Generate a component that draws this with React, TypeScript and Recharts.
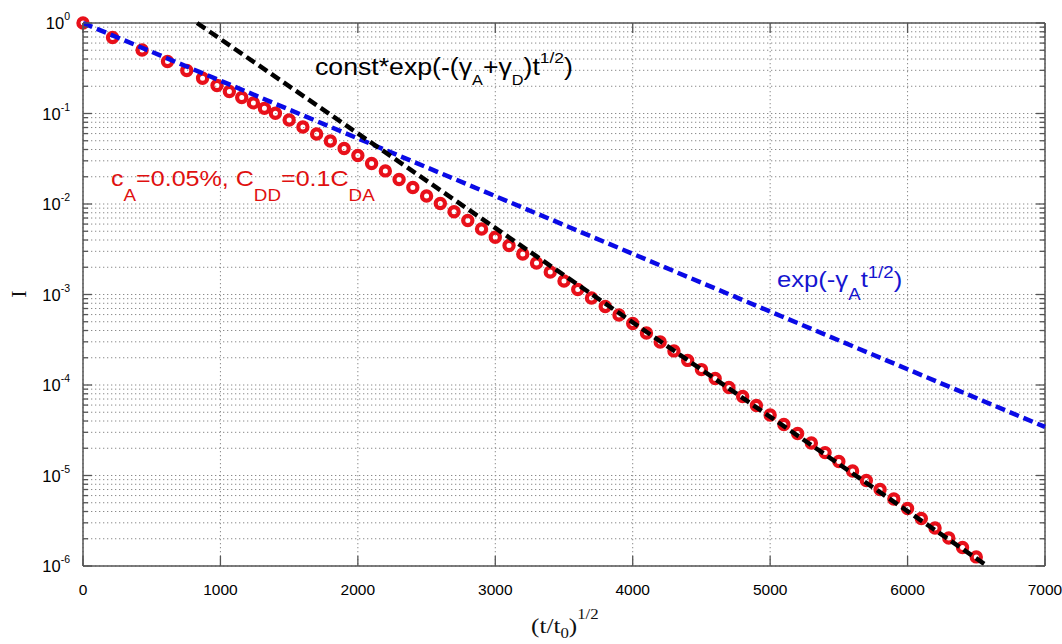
import React from "react";
import {
  ComposedChart,
  Line,
  Scatter,
  XAxis,
  YAxis,
  CartesianGrid,
  ReferenceLine,
} from "recharts";

// simulated decay, red circles
const redX = [
  0, 215, 430, 615, 755, 870, 975, 1065, 1155, 1240, 1320, 1400, 1500, 1600,
  1700, 1800, 1900, 2000, 2100, 2200, 2300, 2400, 2500, 2600, 2700, 2800, 2900,
  3000, 3100, 3200, 3300, 3400, 3500, 3600, 3700, 3800, 3900, 4000, 4100, 4200,
  4300, 4400, 4500, 4600, 4700, 4800, 4900, 5000, 5100, 5200, 5300, 5400, 5500,
  5600, 5700, 5800, 5900, 6000, 6100, 6200, 6300, 6400, 6500,
];
const redI = [
  1.0, 0.692, 0.503, 0.376, 0.299, 0.245, 0.204, 0.175, 0.15, 0.131, 0.114,
  0.1005, 0.0848, 0.0709, 0.0594, 0.0497, 0.041, 0.0344, 0.028, 0.0232,
  0.01865, 0.01522, 0.01226, 0.01013, 0.00822, 0.00657, 0.00529, 0.00429,
  0.00348, 0.0028, 0.00223, 0.00177, 0.00141, 0.001135, 0.000915, 0.000737,
  0.000594, 0.000478, 0.000376, 0.000299, 0.000238, 0.000187, 0.000148,
  0.000118, 9.38e-5, 7.46e-5, 5.94e-5, 4.66e-5, 3.66e-5, 2.91e-5, 2.29e-5,
  1.79e-5, 1.43e-5, 1.12e-5, 8.81e-6, 7.0e-6, 5.5e-6, 4.32e-6, 3.35e-6,
  2.63e-6, 2.04e-6, 1.6e-6, 1.26e-6,
];

// exp(-gA t^1/2)
const blueX = [0, 7000];
const blueI = [1, 3.44e-5];

// const*exp(-(gA+gD) t^1/2)
const blackX = [830, 6580];
const blackI = [1, 1e-6];

const xTicks = [0, 1000, 2000, 3000, 4000, 5000, 6000, 7000];
const yMajorTicks = [1, 1e-1, 1e-2, 1e-3, 1e-4, 1e-5, 1e-6];
const yMinorFactors = [2, 3, 4, 5, 6, 7, 8, 9];

const redData = redX.map((x, i) => ({ x, y: redI[i] }));
const blueData = blueX.map((x, i) => ({ x, y: blueI[i] }));
const blackData = blackX.map((x, i) => ({ x, y: blackI[i] }));
const yTicks = [
  ...yMajorTicks,
  ...yMajorTicks.slice(1).flatMap((b) => yMinorFactors.map((m) => m * b)),
];

const PLOT_W = 962;
const PLOT_TOP = 23;
const FRAME = "#555";
const SANS = "'Liberation Sans', Arial, Helvetica, sans-serif";
const SERIF = "'Liberation Serif', 'Times New Roman', serif";

function YTick(props: any) {
  const { x, y, payload } = props;
  const lg = Math.log10(payload.value);
  const major = Math.abs(lg - Math.round(lg)) < 1e-6;
  const len = major ? 9 : 5;
  return (
    <g>
      <line x1={x} y1={y} x2={x + len} y2={y} stroke={FRAME} strokeWidth={1.3} />
      <line x1={x + PLOT_W - len} y1={y} x2={x + PLOT_W} y2={y} stroke={FRAME} strokeWidth={1.3} />
      {major && (
        <text x={x - 13} y={y + 6} textAnchor="end" fontSize={16.5} fontFamily={SANS} fill="#000">
          10
          <tspan dy={-9} fontSize={10.5}>
            {Math.round(lg)}
          </tspan>
        </text>
      )}
    </g>
  );
}

function XTick(props: any) {
  const { x, y, payload } = props;
  return (
    <g>
      <line x1={x} y1={y} x2={x} y2={y - 10} stroke={FRAME} strokeWidth={1.3} />
      <line x1={x} y1={PLOT_TOP} x2={x} y2={PLOT_TOP + 10} stroke={FRAME} strokeWidth={1.3} />
      <text x={x} y={y + 29} textAnchor="middle" fontSize={15.5} fontFamily={SANS} fill="#000">
        {payload.value}
      </text>
    </g>
  );
}

function RedRing(props: any) {
  return (
    <circle cx={props.cx} cy={props.cy} r={4.6} fill="none" stroke="#e8101a" strokeWidth={4.2} />
  );
}

export default function App() {
  return (
    <div style={{ position: "absolute", left: 0, top: 0, width: 1062, height: 644, background: "#fff" }}>
      <ComposedChart width={1062} height={644} margin={{ top: 23, right: 17, bottom: 0, left: 0 }}>
        <CartesianGrid stroke="#8a8a8a" strokeDasharray="1.3 2.7" strokeWidth={1} />
        <XAxis
          type="number"
          dataKey="x"
          domain={[0, 7000]}
          ticks={xTicks}
          interval={0}
          height={78}
          tickSize={0}
          tickMargin={0}
          tickLine={false}
          tick={<XTick />}
          axisLine={{ stroke: FRAME, strokeWidth: 1.5 }}
        />
        <YAxis
          type="number"
          dataKey="y"
          scale="log"
          domain={[1e-6, 1]}
          ticks={yTicks}
          interval={0}
          width={83}
          tickSize={0}
          tickMargin={0}
          tickLine={false}
          tick={<YTick />}
          axisLine={{ stroke: FRAME, strokeWidth: 1.5 }}
        />
        <ReferenceLine y={1} stroke={FRAME} strokeWidth={1.5} />
        <ReferenceLine x={7000} stroke={FRAME} strokeWidth={1.5} />
        <Scatter data={redData} shape={<RedRing />} isAnimationActive={false} zIndex={350} />
        <Line
          data={blueData}
          dataKey="y"
          type="linear"
          stroke="#0a0ae6"
          strokeWidth={4.5}
          strokeDasharray="10 5"
          dot={false}
          activeDot={false}
          isAnimationActive={false}
          zIndex={450}
        />
        <Line
          data={blackData}
          dataKey="y"
          type="linear"
          stroke="#000"
          strokeWidth={4.5}
          strokeDasharray="10 5"
          dot={false}
          activeDot={false}
          isAnimationActive={false}
          zIndex={460}
        />
      </ComposedChart>
      <svg
        width={1062}
        height={644}
        style={{ position: "absolute", left: 0, top: 0, pointerEvents: "none" }}
      >
        <g transform="translate(315,75) scale(1.16,1)">
          <text x={0} y={0} fontSize={23} fontFamily={SANS} fill="#000">
            const*exp(-(γ
            <tspan dy={10} fontSize={14}>A</tspan>
            <tspan dy={-10}>+γ</tspan>
            <tspan dy={10} fontSize={14}>D</tspan>
            <tspan dy={-10}>)t</tspan>
            <tspan dy={-12} fontSize={15}>1/2</tspan>
            <tspan dy={12}>)</tspan>
          </text>
        </g>
        <g transform="translate(111,186) scale(1.14,1)">
          <text x={0} y={0} fontSize={22} fontFamily={SANS} fill="#e01010">
            c
            <tspan dy={15} fontSize={16.5}>A</tspan>
            <tspan dy={-15}>=0.05%, C</tspan>
            <tspan dy={15} fontSize={16.5}>DD</tspan>
            <tspan dy={-15}>=0.1C</tspan>
            <tspan dy={15} fontSize={16.5}>DA</tspan>
          </text>
        </g>
        <g transform="translate(777,287) scale(1.165,1)">
          <text x={0} y={0} fontSize={22} fontFamily={SANS} fill="#1515d0">
            exp(-γ
            <tspan dy={13} fontSize={16}>A</tspan>
            <tspan dy={-13}>t</tspan>
            <tspan dy={-9} fontSize={16}>1/2</tspan>
            <tspan dy={9}>)</tspan>
          </text>
        </g>
        <text transform="translate(26,294) rotate(-90)" textAnchor="middle" fontSize={22} fontFamily={SERIF} fill="#111">
          I
        </text>
        <g transform="translate(531,633) scale(1.2,1)">
          <text x={0} y={0} fontSize={21} fontFamily={SERIF} fill="#111">
            (t/t
            <tspan dy={5} fontSize={14}>0</tspan>
            <tspan dy={-5}>)</tspan>
            <tspan dy={-14} fontSize={14}>1/2</tspan>
          </text>
        </g>
      </svg>
    </div>
  );
}
